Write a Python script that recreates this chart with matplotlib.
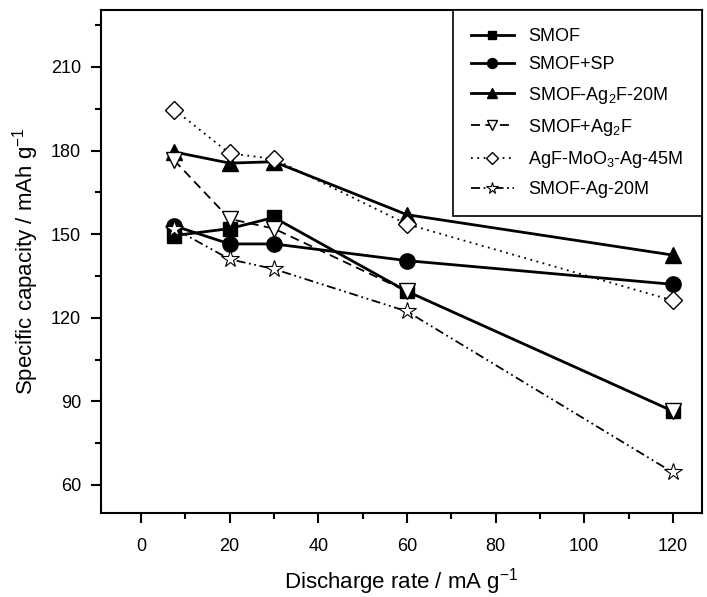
import matplotlib
matplotlib.use('Agg')
import matplotlib.pyplot as plt
from matplotlib.ticker import MultipleLocator

plt.rcParams['font.family'] = ['Liberation Sans', 'DejaVu Sans']
plt.rcParams['mathtext.default'] = 'regular'

rate = [7.5, 20, 30, 60, 120]

smof = [149.5, 152, 156, 129.5, 86.5]
smof_sp = [153, 146.5, 146.5, 140.5, 132]
smof_ag2f_20m = [179.5, 175.5, 176, 157, 142.5]
smof_ag2f = [176.5, 155.5, 152, 129.5, 86.5]
agf_moo3 = [194.7, 179, 177, 153.6, 126.2]
smof_ag_20m = [152, 141, 137.5, 122.3, 64.5]

labels = ['SMOF', 'SMOF+SP', 'SMOF-Ag$_2$F-20M', 'SMOF+Ag$_2$F',
          'AgF-MoO$_3$-Ag-45M', 'SMOF-Ag-20M']

fig = plt.figure(figsize=(7.07, 5.97), dpi=100)
ax = fig.add_axes([0.1424, 0.141, 0.850, 0.842])

ax.plot(rate, smof, color='k', lw=2, marker='s', ms=9.5, label=labels[0])
ax.plot(rate, smof_sp, color='k', lw=2, marker='o', ms=11, label=labels[1])
ax.plot(rate, smof_ag2f_20m, color='k', lw=2, marker='^', ms=12, label=labels[2])
ax.plot(rate, smof_ag2f, color='k', lw=1.3, ls=(0, (5, 3)), marker='v', ms=12,
        mfc='white', mew=1, label=labels[3])
ax.plot(rate, agf_moo3, color='k', lw=1.3, ls=(0, (1, 2.5)), marker='D', ms=9,
        mfc='white', mew=1, label=labels[4])
ax.plot(rate, smof_ag_20m, color='k', lw=1.3, ls=(0, (5, 2, 1, 2, 1, 2)), marker='*',
        ms=13, mfc='white', mew=0.8, label=labels[5])

ax.set_xlim(-9.1, 126.5)
ax.set_ylim(50, 230.4)
ax.xaxis.set_major_locator(MultipleLocator(20))
ax.xaxis.set_minor_locator(MultipleLocator(10))
ax.yaxis.set_major_locator(MultipleLocator(30))
ax.yaxis.set_minor_locator(MultipleLocator(15))
ax.tick_params(which='major', direction='out', length=7, width=1.5, labelsize=13)
ax.tick_params(which='minor', direction='out', length=4, width=1.5)
ax.tick_params(axis='x', which='major', pad=11)
ax.tick_params(axis='y', which='major', pad=7)
for s in ax.spines.values():
    s.set_linewidth(1.5)

ax.set_xlabel('Discharge rate / mA g$^{-1}$', fontsize=16, labelpad=8)
ax.set_ylabel('Specific capacity / mAh g$^{-1}$', fontsize=16, labelpad=7)

leg = ax.legend(loc='upper right', borderaxespad=0, fancybox=False, edgecolor='k',
                fontsize=13, handlelength=2.4, labelspacing=0.62, borderpad=1.0,
                handletextpad=0.8, framealpha=1, markerscale=0.65)
leg.get_frame().set_linewidth(1.2)

fig.savefig('out.png', dpi=100)
